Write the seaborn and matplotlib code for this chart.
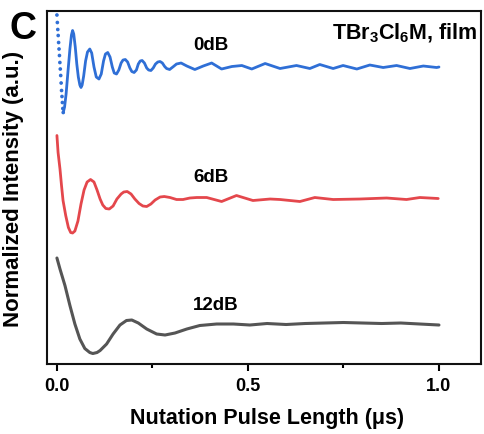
import numpy as np
import pandas as pd
import matplotlib.pyplot as plt
import seaborn as sns

sns.set_style('ticks')
plt.rcParams['font.family'] = ['Liberation Sans', 'DejaVu Sans']
plt.rcParams['font.weight'] = 'bold'
plt.rcParams['text.color'] = 'black'
plt.rcParams['axes.labelcolor'] = 'black'
plt.rcParams['xtick.color'] = 'black'
plt.rcParams['mathtext.fontset'] = 'custom'
plt.rcParams['mathtext.bf'] = 'Liberation Sans:bold'
plt.rcParams['mathtext.rm'] = 'Liberation Sans:bold'

# nutation traces (normalized, baseline = 0)
t_0db = [0.0, 0.0011, 0.0022, 0.0033, 0.0044, 0.0055, 0.0066, 0.0077, 0.0088, 0.0099,
         0.011, 0.0121, 0.0132, 0.0143, 0.0154, 0.0165,
         0.020, 0.024, 0.029, 0.034, 0.038, 0.041, 0.044, 0.048, 0.052, 0.056,
         0.060, 0.063, 0.066, 0.070, 0.075, 0.080, 0.086, 0.091, 0.097, 0.103,
         0.110, 0.116, 0.122, 0.127, 0.133, 0.139, 0.145, 0.150, 0.156, 0.162,
         0.168, 0.173, 0.179, 0.185, 0.191, 0.196, 0.202, 0.208, 0.213, 0.218,
         0.223, 0.229, 0.235, 0.240, 0.246, 0.252, 0.258, 0.264, 0.270, 0.276,
         0.282, 0.287, 0.295, 0.305, 0.313, 0.325, 0.340, 0.361, 0.383, 0.405,
         0.431, 0.458, 0.484, 0.510, 0.545, 0.584, 0.627, 0.662, 0.688, 0.723,
         0.749, 0.785, 0.819, 0.854, 0.889, 0.924, 0.959, 0.994, 1.0]
y_0db = [1.02, 0.87, 0.73, 0.61, 0.47, 0.34, 0.21, 0.07, -0.06, -0.19,
         -0.34, -0.49, -0.61, -0.73, -0.85, -0.93,
         -0.82, -0.56, -0.10, 0.34, 0.62, 0.71, 0.64, 0.38, 0.04, -0.22,
         -0.38, -0.43, -0.38, -0.20, 0.10, 0.28, 0.34, 0.26, -0.02, -0.22,
         -0.26, -0.16, 0.10, 0.24, 0.27, 0.18, -0.02, -0.14, -0.16, -0.08,
         0.06, 0.12, 0.13, 0.08, -0.04, -0.11, -0.13, -0.08, 0.04, 0.10,
         0.11, 0.06, -0.04, -0.08, -0.09, -0.04, 0.04, 0.08, 0.09, 0.06,
         -0.01, -0.05, -0.07, -0.01, 0.04, 0.06, 0.00, -0.07, 0.00, 0.06,
         -0.06, -0.01, 0.01, -0.06, 0.05, -0.05, 0.01, -0.05, 0.03, -0.05,
         0.01, -0.06, 0.02, -0.03, 0.01, -0.05, 0.00, -0.03, -0.02]

t_6db = [0.0, 0.003, 0.008, 0.012, 0.016, 0.023, 0.030, 0.036, 0.041, 0.047,
         0.055, 0.063, 0.071, 0.079, 0.088, 0.097, 0.105, 0.113, 0.120, 0.128,
         0.137, 0.147, 0.157, 0.168, 0.175, 0.184, 0.194, 0.204, 0.215, 0.225,
         0.235, 0.246, 0.257, 0.270, 0.281, 0.296, 0.313, 0.330, 0.348, 0.366,
         0.392, 0.431, 0.470, 0.513, 0.558, 0.584, 0.636, 0.675, 0.723, 0.793,
         0.863, 0.915, 0.950, 0.998]
y_6db = [1.26, 0.92, 0.59, 0.26, -0.04, -0.34, -0.58, -0.68, -0.69, -0.65,
         -0.45, -0.11, 0.17, 0.33, 0.38, 0.33, 0.17, -0.01, -0.13, -0.20,
         -0.21, -0.15, -0.01, 0.09, 0.13, 0.14, 0.09, -0.01, -0.10, -0.15,
         -0.16, -0.11, -0.03, 0.03, 0.04, 0.02, -0.02, -0.02, 0.01, 0.02,
         0.02, -0.06, 0.06, -0.04, -0.01, -0.02, -0.06, 0.02, -0.02, -0.01,
         0.01, -0.02, 0.02, 0.00]

t_12db = [0.0, 0.008, 0.021, 0.034, 0.047, 0.060, 0.073, 0.086, 0.094, 0.105,
          0.113, 0.130, 0.147, 0.165, 0.182, 0.196, 0.213, 0.235, 0.261, 0.283,
          0.309, 0.340, 0.374, 0.418, 0.462, 0.505, 0.55, 0.60, 0.65, 0.70,
          0.75, 0.80, 0.85, 0.90, 0.95, 1.0]
y_12db = [1.32, 1.10, 0.77, 0.37, 0.00, -0.30, -0.49, -0.57, -0.59, -0.57,
          -0.53, -0.40, -0.20, -0.02, 0.07, 0.08, 0.02, -0.10, -0.20, -0.22,
          -0.18, -0.10, -0.03, 0.00, 0.00, -0.02, 0.01, -0.01, 0.01, 0.02,
          0.03, 0.02, 0.01, 0.02, 0.00, -0.02]

series = ['0dB', '6dB', '12dB']
colors = {'0dB': '#2f6fd6', '6dB': '#e4474c', '12dB': '#555555'}
offsets = {'0dB': 5.96, '6dB': 3.31, '12dB': 0.8}

fig = plt.figure(figsize=(4.84, 4.35), dpi=100)
ax = fig.add_axes([0.0971, 0.1609, 0.8967, 0.8115])

# 0 dB: the steep first drop shows up as separate dots
n_dots = 16
sns.scatterplot(x=t_0db[:n_dots], y=np.array(y_0db[:n_dots]) + offsets['0dB'],
                s=7, color=colors['0dB'], edgecolor='none', ax=ax)
sns.lineplot(x=t_0db[n_dots - 1:], y=np.array(y_0db[n_dots - 1:]) + offsets['0dB'],
             sort=False, estimator=None, color=colors['0dB'], lw=2.0, ax=ax)
sns.lineplot(x=t_6db, y=np.array(y_6db) + offsets['6dB'],
             sort=False, estimator=None, color=colors['6dB'], lw=2.0, ax=ax)
sns.lineplot(x=t_12db, y=np.array(y_12db) + offsets['12dB'],
             sort=False, estimator=None, color=colors['12dB'], lw=2.2, ax=ax)

label_y = {'0dB': 6.4, '6dB': 3.76, '12dB': 1.2}
for s in series:
    ax.text(0.356, label_y[s], s, fontsize=13.5, fontweight='bold', va='center', ha='left')

ax.text(0.993, 0.94, r'TBr$_{\mathbf{3}}$Cl$_{\mathbf{6}}$M, film', transform=ax.transAxes,
        fontsize=15.5, fontweight='bold', ha='right', va='center')
fig.text(0.047, 0.934, 'C', fontsize=27, fontweight='bold', ha='center', va='center')

ax.set_xlim(-0.026, 1.11)
ax.set_ylim(0, 7.06)
ax.set_xticks([0, 0.5, 1.0])
ax.set_xticklabels(['0.0', '0.5', '1.0'])
ax.set_xticks([0.25, 0.75], minor=True)
ax.set_yticks([])
ax.tick_params(axis='x', which='major', direction='out', length=5, width=1.5, labelsize=13, pad=4)
ax.tick_params(axis='x', which='minor', direction='out', length=3, width=1.5)
for sp in ax.spines.values():
    sp.set_visible(True)
    sp.set_linewidth(1.5)
    sp.set_color('#111111')

ax.set_xlabel('Nutation Pulse Length (μs)', fontsize=15.5, fontweight='bold')
ax.set_ylabel('Normalized Intensity (a.u.)', fontsize=16, fontweight='bold')
ax.xaxis.set_label_coords(0.507, -0.122)
ax.yaxis.set_label_coords(-0.052, 0.5)

fig.savefig('out.png', dpi=100)
